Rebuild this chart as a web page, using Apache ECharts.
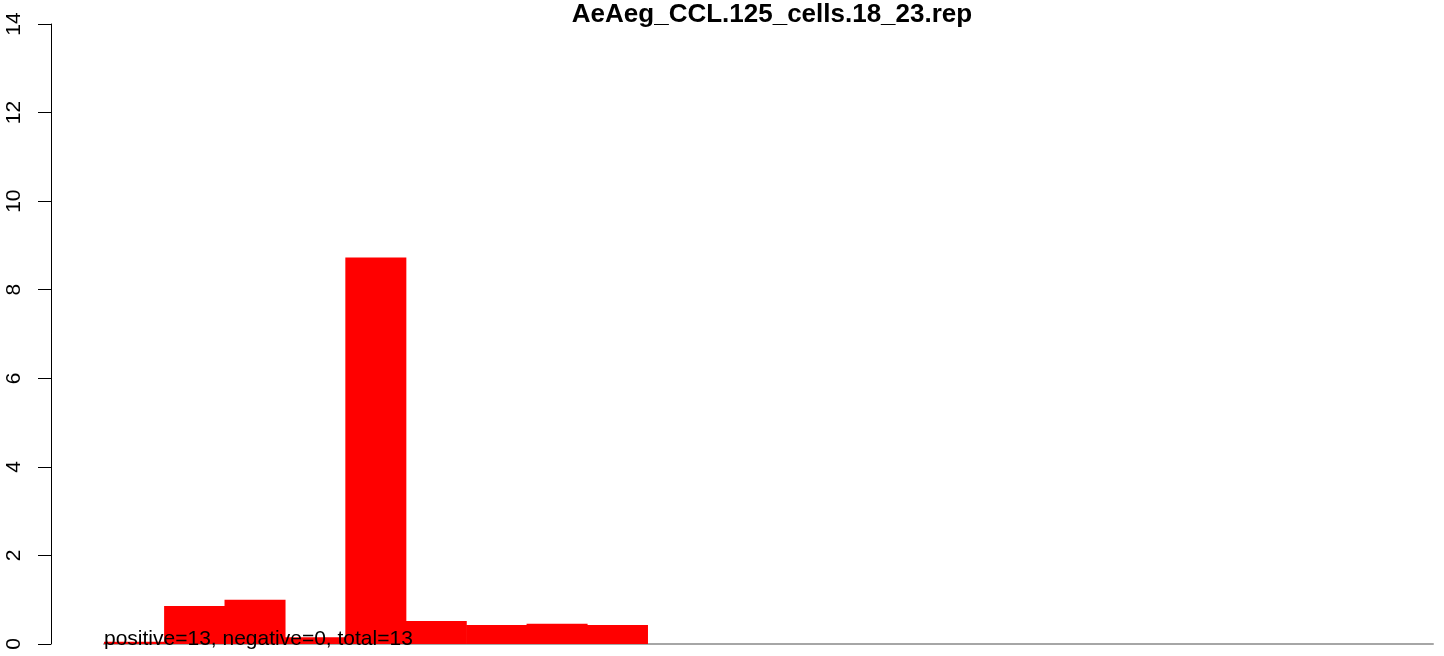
<!DOCTYPE html>
<html>
<head>
<meta charset="utf-8">
<script src="https://cdn.jsdelivr.net/npm/echarts@6/dist/echarts.min.js"></script>
<style>
  html, body { margin: 0; padding: 0; background: #fff; }
  #main { width: 1444px; height: 656px; }
</style>
</head>
<body>
<div id="main"></div>
<script>
// 数据
var titleText = 'AeAeg_CCL.125_cells.18_23.rep';
var noteText = 'positive=13, negative=0, total=13';
var bins = ['1', '2', '3', '4', '5', '6', '7', '8', '9', '10', '11',
  '12', '13', '14', '15', '16', '17', '18', '19', '20', '21', '22'];
var counts = [0.05, 0.86, 1.0, 0.15, 8.73, 0.52, 0.43, 0.46, 0.43, 0, 0,
  0, 0, 0, 0, 0, 0, 0, 0, 0, 0, 0];
var yTicks = [0, 2, 4, 6, 8, 10, 12, 14];

var font = 'Liberation Sans, Arial, sans-serif';

var myChart = echarts.init(document.getElementById('main'));
option = {
  animation: false,
  title: {
    text: titleText,
    left: 767,
    top: -3,
    textAlign: 'center',
    textStyle: {
      fontFamily: font,
      fontSize: 26,
      fontWeight: 'bold',
      color: '#000'
    }
  },
  grid: {
    left: 104,
    right: 11,
    top: 24,
    bottom: 12
  },
  xAxis: {
    type: 'category',
    data: bins,
    axisLine: { lineStyle: { color: '#a6a6a6', width: 2 } },
    axisTick: { show: false },
    axisLabel: { show: false }
  },
  yAxis: {
    type: 'value',
    min: yTicks[0],
    max: yTicks[yTicks.length - 1],
    interval: 2,
    offset: 53,
    axisLine: { show: true, lineStyle: { color: '#000', width: 1 } },
    axisTick: { show: true, length: 13, lineStyle: { color: '#000' } },
    axisLabel: {
      rotate: 90,
      margin: 26,
      color: '#000',
      fontFamily: font,
      fontSize: 21
    },
    splitLine: { show: false }
  },
  series: [
    {
      type: 'bar',
      data: counts,
      barWidth: '101%',
      itemStyle: { color: '#ff0000' }
    }
  ],
  graphic: [
    {
      type: 'text',
      left: 104,
      top: 629,
      z: 100,
      style: {
        text: noteText,
        font: '21px ' + font,
        fill: '#000'
      }
    }
  ]
};
myChart.setOption(option);
</script>
</body>
</html>
